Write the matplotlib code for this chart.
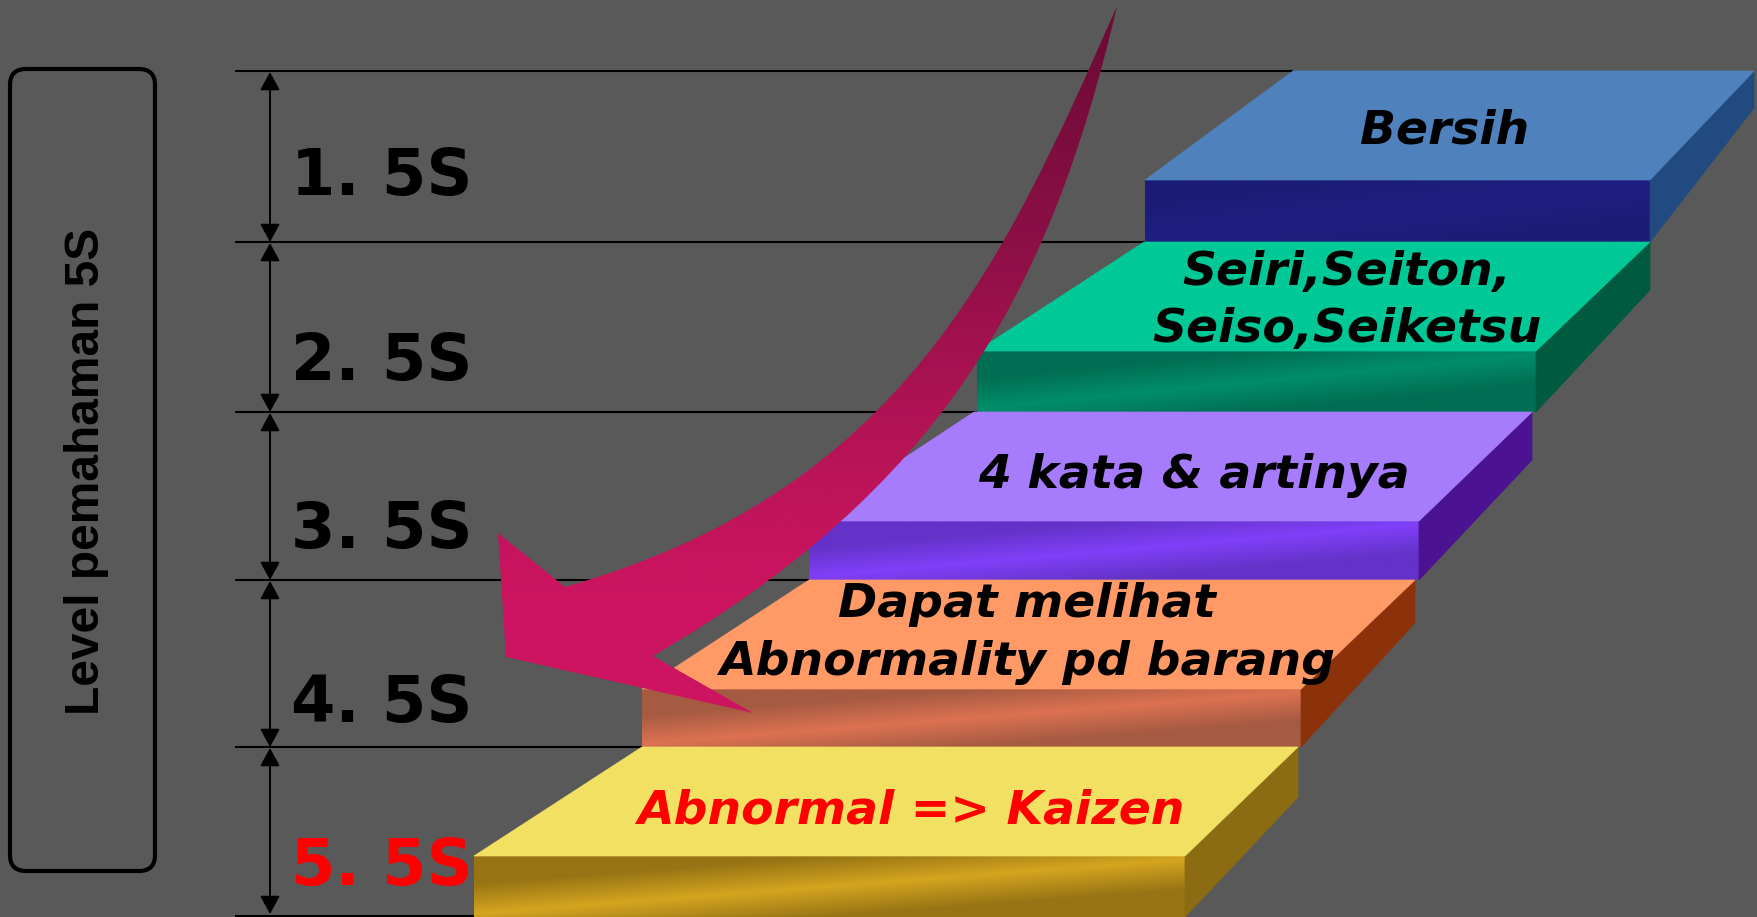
import numpy as np
import matplotlib
matplotlib.use("Agg")
import matplotlib.pyplot as plt
from matplotlib.patches import Polygon, FancyBboxPatch, FancyArrowPatch, PathPatch
from matplotlib.path import Path
from matplotlib.colors import to_rgb

# ---------------- data ----------------
level_labels = ["1. 5S", "2. 5S", "3. 5S", "4. 5S", "5. 5S"]
level_label_colors = ["black", "black", "black", "black", "red"]
step_texts = ["Bersih", "Seiri,Seiton,\nSeiso,Seiketsu", "4 kata & artinya",
              "Dapat melihat\nAbnormality pd barang", "Abnormal => Kaizen"]
step_text_colors = ["black", "black", "black", "black", "red"]
side_title = "Level pemahaman 5S"

# ---------------- styles ----------------
bg = "#595959"
top_colors = ["#4f81bd", "#00c997", "#a67cfc", "#ff9966", "#f2e063"]
front_dark = ["#1c1c78", "#006e52", "#6432c8", "#a65a42", "#987414"]
front_light = ["#1f1f82", "#008e68", "#8040f8", "#dc7252", "#d4a520"]
side_colors = ["#204a80", "#005a40", "#4b1291", "#8c320a", "#8c6c12"]

# ---------------- layout (pixel coordinates) ----------------
W, H = 1758, 917
bounds = [71, 242, 412, 580, 747, 917]
top_depth = 109
# (top-left x, top-right x, front-left x, front-right x, side drop)
step_x = [
    (1293, 1754, 1145, 1650, 37),
    (1144, 1650, 977, 1536, 48),
    (974, 1532, 809, 1419, 48),
    (809, 1415, 642, 1301, 43),
    (642, 1298, 474, 1185, 50),
]
label_x = 291
label_baselines = [195, 380, 548, 722, 885]
text_centers_x = [1445, 1347, 1194, 1027, 911]
text_baselines = [[143], [285, 342], [488], [617, 675], [823]]

fig = plt.figure(figsize=(W / 100, H / 100), dpi=100)
fig.patch.set_facecolor(bg)
ax = fig.add_axes([0, 0, 1, 1])
ax.set_facecolor(bg)
ax.axis("off")

# separator lines
for i, y in enumerate(bounds):
    xend = step_x[0][0] if i == 0 else step_x[i - 1][2]
    yy = min(y, 915.5)
    ax.plot([235, xend], [yy, yy], color="black", lw=1.5, zorder=1,
            solid_capstyle="butt")

# double arrows
for i in range(5):
    a = FancyArrowPatch((270, bounds[i] + 1), (270, min(bounds[i + 1], 914)),
                        arrowstyle="<|-|>,head_length=0.55,head_width=0.3",
                        mutation_scale=20, color="black", lw=1.4,
                        shrinkA=0, shrinkB=0, zorder=2)
    ax.add_patch(a)

# level labels
for lab, col, yb in zip(level_labels, level_label_colors, label_baselines):
    ax.text(label_x, yb, lab, fontsize=46, fontweight="bold", color=col,
            family="DejaVu Sans", ha="left", va="baseline", zorder=3)

# rounded box with rotated title
box = FancyBboxPatch((10, 69), 145, 802, boxstyle="round,pad=0,rounding_size=16",
                     fill=False, ec="black", lw=3, zorder=3)
ax.add_patch(box)
ax.text(87, 471, side_title, rotation=90, ha="center", va="center",
        fontsize=34.5, fontweight="bold", family=["Liberation Sans", "DejaVu Sans"],
        color="black", zorder=3)


def front_gradient(x0, x1, y0, y1, dark, light, z):
    nx, ny = 300, 80
    u = np.linspace(0, 1, nx)[None, :]
    v = np.linspace(0, 1, ny)[:, None]
    t = v + (u - 0.5) * 0.9
    w = 1 - np.clip(np.abs(2 * t - 1), 0, 1)
    d = np.array(to_rgb(dark))
    l = np.array(to_rgb(light))
    img = d[None, None, :] * (1 - w[..., None]) + l[None, None, :] * w[..., None]
    ax.imshow(img, extent=(x0, x1, y1, y0), origin="upper", aspect="auto",
              interpolation="bilinear", zorder=z)


# steps
for i in range(5):
    tlx, trx, flx, frx, drop = step_x[i]
    ytop = bounds[i]
    yfront = ytop + top_depth
    ybot = bounds[i + 1]
    z = 4 + i
    front_gradient(flx, frx, yfront, ybot, front_dark[i], front_light[i], z)
    side = Polygon([(trx, ytop), (trx, ytop + drop), (frx, ybot), (frx, yfront)],
                   closed=True, fc=side_colors[i], ec=side_colors[i], lw=0.5, zorder=z)
    ax.add_patch(side)
    top = Polygon([(tlx, ytop), (trx, ytop), (frx, yfront), (flx, yfront)],
                  closed=True, fc=top_colors[i], ec=top_colors[i], lw=0.5, zorder=z)
    ax.add_patch(top)

# curved arrow (outer and inner edges as cubic Bezier curves)
tip = (1117, 6)
outer_ctrl = [(1002, 267), (901, 491), (565, 587)]
head = [(498, 533), (506, 657), (753, 713)]
inner_end = (653, 656)
inner_ctrl_rev = [(938, 490), (1049, 298), tip]
verts = [tip] + outer_ctrl + head + [inner_end] + inner_ctrl_rev + [tip]
codes = ([Path.MOVETO] + [Path.CURVE4] * 3 + [Path.LINETO] * 3 + [Path.LINETO]
         + [Path.CURVE4] * 3 + [Path.CLOSEPOLY])
arrow_path = Path(verts, codes)
clip = PathPatch(arrow_path, transform=ax.transData, fc="none", ec="none")
ny = 200
ys = np.linspace(0, 720, ny)
stops_y = [0, 240, 460, 600, 720]
stops_c = [(105, 10, 52), (140, 15, 70), (185, 20, 88), (205, 20, 96), (205, 20, 96)]
cols = np.stack([np.interp(ys, stops_y, [c[k] for c in stops_c]) for k in range(3)], axis=1) / 255
grad = np.repeat(cols[:, None, :], 10, axis=1)
im = ax.imshow(grad, extent=(480, 1130, 720, 0), origin="upper", aspect="auto",
               interpolation="bilinear", zorder=10)
im.set_clip_path(clip)

# step texts
for txt, col, cx, bls in zip(step_texts, step_text_colors, text_centers_x, text_baselines):
    for line, yb in zip(txt.split("\n"), bls):
        ax.text(cx, yb, line, fontsize=34, fontweight="bold", style="italic",
                color=col, family="DejaVu Sans", ha="center", va="baseline", zorder=12)

ax.set_xlim(0, W)
ax.set_ylim(H, 0)
fig.savefig("out.png", dpi=100, facecolor=bg)
